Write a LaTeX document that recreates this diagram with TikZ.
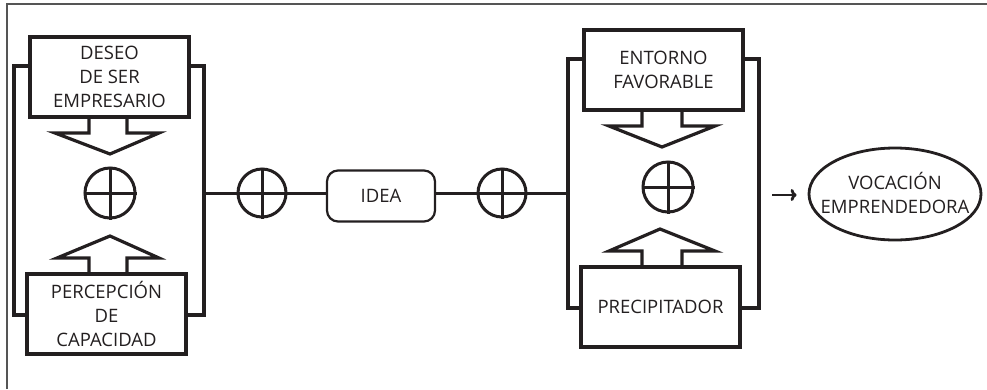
\documentclass[tikz,border=0pt]{standalone}
\usepackage{fontspec}
\setmainfont{Open Sans}
\usetikzlibrary{shapes.geometric,arrows.meta}
\definecolor{ink}{HTML}{231F20}
\definecolor{framec}{HTML}{555555}
\tikzset{
  thick box/.style={draw=ink, line width=3.4pt, minimum width=159pt, minimum height=80pt, inner sep=0pt, align=center, text=ink, font=\fontsize{18.5}{24}\selectfont},
  blockarrow/.style={draw=ink, line width=3.2pt, line join=miter},
  bracket/.style={draw=ink, line width=3.4pt, line join=miter},
  sumnode/.style={draw=ink, circle, line width=3pt, minimum size=50pt, inner sep=0pt},
  cross/.style={draw=ink, line width=3pt},
  link/.style={draw=ink, line width=3pt},
  lbl/.style={text=ink, font=\fontsize{18.5}{24}\selectfont, align=center}
}
\begin{document}
\begin{tikzpicture}[x=1pt,y=-1pt]
\useasboundingbox (0,0) rectangle (987,389);
% frame
\draw[framec, line width=1.5pt] (7,389) -- (7,4) -- (987,4);

% ---------- left module ----------
\node[thick box] (deseo) at (109.5,77) {DESEO\\DE SER\\EMPRESARIO};
\node[thick box] (perc) at (106.5,314) {PERCEPCIÓN\\DE\\CAPACIDAD};
\coordinate (lbtl) at (14,66);
\coordinate (lbbl) at (14,315);
\coordinate (lbtr) at (204,66);
\coordinate (lbbr) at (204,315);
\coordinate (lbmid) at (204,193);
\draw[bracket] (deseo.west |- lbtl) -- (lbtl) -- (lbbl) -- (perc.west |- lbbl);
\draw[bracket] (deseo.east |- lbtr) -- (lbtr) -- (lbbr) -- (perc.east |- lbbr);
\draw[blockarrow] (89,117) -- (89,133) -- (55,133) -- (110,154) -- (159,133) -- (127,133) -- (127,117);
\draw[blockarrow] (89,274) -- (89,258) -- (57,258) -- (110,236) -- (159,258) -- (127,258) -- (127,274);
\node[sumnode] (s1) at (110,193) {};
\draw[cross] (s1.north) -- (s1.south) (s1.west) -- (s1.east);

% ---------- middle chain ----------
\node[sumnode, minimum size=48pt] (s2) at (262,193) {};
\draw[cross] (s2.north) -- (s2.south);
\node[draw=ink, line width=2.2pt, rounded corners=11pt, minimum width=108pt, minimum height=51pt, inner sep=0pt, lbl] (idea) at (381,196) {IDEA};
\node[sumnode, minimum size=48pt] (s3) at (502,193) {};
\draw[cross] (s3.north) -- (s3.south);
\coordinate (rbmid) at (568,193);
\draw[link] (lbmid) -- (s2.west) -- (s2.east) -- (idea.west |- s2.east);
\draw[link] (idea.east |- s3.west) -- (s3.west) -- (s3.east) -- (rbmid);

% ---------- right module ----------
\node[thick box] (ent) at (663.5,70) {ENTORNO\\FAVORABLE};
\node[thick box] (prec) at (660.5,307) {PRECIPITADOR};
\coordinate (rbtl) at (568,59);
\coordinate (rbbl) at (568,308);
\coordinate (rbtr) at (759,59);
\coordinate (rbbr) at (759,308);
\draw[bracket] (ent.west |- rbtl) -- (rbtl) -- (rbbl) -- (prec.west |- rbbl);
\draw[bracket] (ent.east |- rbtr) -- (rbtr) -- (rbbr) -- (prec.east |- rbbr);
\draw[blockarrow] (642,110) -- (642,126) -- (609,126) -- (662,147) -- (715,126) -- (682,126) -- (682,110);
\draw[blockarrow] (642,267) -- (642,251) -- (609,251) -- (660,229) -- (715,251) -- (682,251) -- (682,267);
\node[sumnode] (s4) at (668,187) {};
\draw[cross] (s4.north) -- (s4.south) (s4.west) -- (s4.east);

% ---------- output ----------
\node[draw=ink, ellipse, line width=2.8pt, minimum width=172pt, minimum height=92pt, inner sep=0pt] (voc) at (895,194) {};
\node[lbl] (voctext) at (895,193) {VOCACIÓN\\EMPRENDEDORA};
\coordinate (arrst) at (772,195);
\draw[draw=ink, line width=2.8pt, -{To[length=6pt,width=12pt]}] (arrst) -- ([xshift=-11pt]voc.west |- arrst);
\end{tikzpicture}
\end{document}
